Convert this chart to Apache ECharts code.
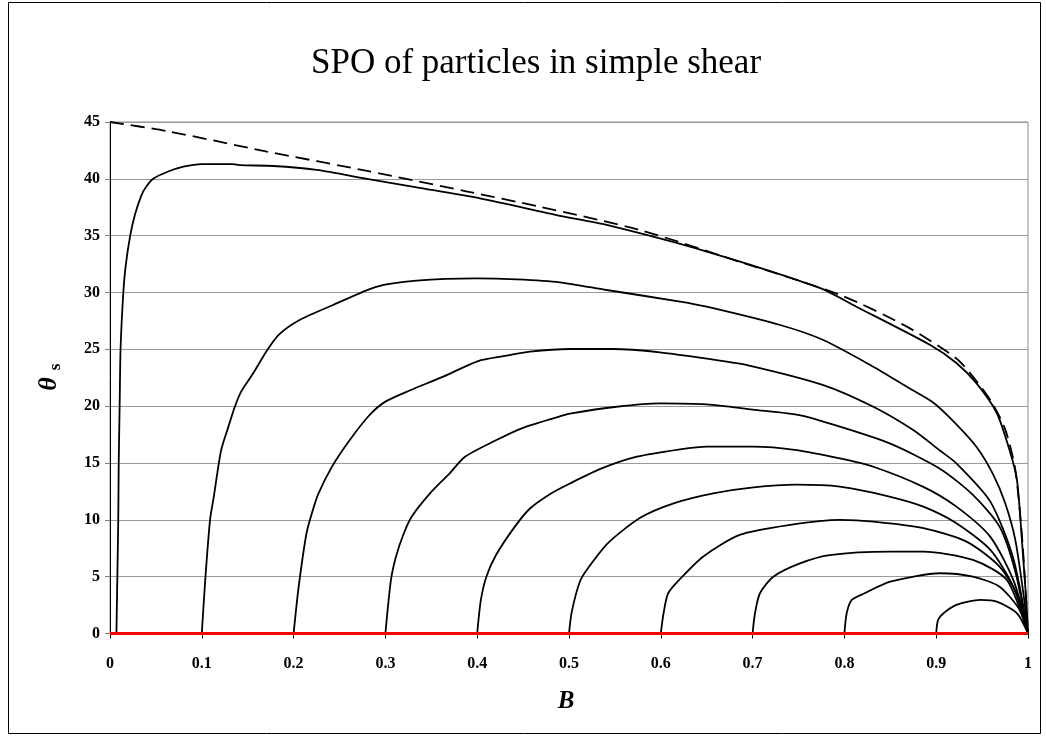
<!DOCTYPE html>
<html>
<head>
<meta charset="utf-8">
<title>SPO of particles in simple shear</title>
<script src="https://cdn.jsdelivr.net/npm/echarts@6/dist/echarts.min.js"></script>
<style>
  html, body { margin: 0; padding: 0; background: #fff; }
  #chart { width: 1046px; height: 738px; }
</style>
</head>
<body>
<div id="chart"></div>
<script>
// Shape preferred orientation paths: each curve is [B, theta_s] pairs,
// starting from an initial shape factor B0 on the B axis.
const curveB001 = [[0.007,0],[0.008,5],[0.009,10],[0.0095,15],[0.0105,20],[0.0115,25],[0.0145,30],[0.017,32.3],[0.022,35],[0.027,36.8],[0.034,38.5],[0.039,39.25],[0.047,40.0],[0.062,40.6],[0.080,41.07],[0.10,41.3],[0.134,41.3],[0.142,41.2],[0.178,41.13],[0.225,40.78],[0.28,40.0],[0.334,39.25],[0.403,38.28],[0.49,36.75],[0.541,35.94],[0.65,33.6],[0.773,30.4],[0.813,28.75],[0.893,25.4],[0.922,23.8],[0.944,22.0],[0.966,19.4],[0.980,16.1],[0.988,13.5],[0.994,7.5],[0.998,3],[1,0]];
const curveB01 = [[0.1,0],[0.104,5],[0.109,10],[0.113,12],[0.121,16.1],[0.129,18.2],[0.136,19.95],[0.143,21.3],[0.156,22.9],[0.171,24.9],[0.184,26.3],[0.207,27.6],[0.243,28.9],[0.29,30.5],[0.334,31.04],[0.399,31.25],[0.443,31.16],[0.49,30.9],[0.541,30.22],[0.621,29.2],[0.65,28.75],[0.730,27.14],[0.777,25.82],[0.8315,23.47],[0.868,21.7],[0.897,20.3],[0.922,18.4],[0.944,16.4],[0.962,14.0],[0.975,11.5],[0.986,8.3],[0.995,3.5],[1,0]];
const curveB02 = [[0.2,0],[0.2055,4.1],[0.214,8.8],[0.22,10.6],[0.227,12.3],[0.242,14.7],[0.261,17.0],[0.2825,19.2],[0.30,20.4],[0.327,21.4],[0.363,22.6],[0.401,23.97],[0.4285,24.4],[0.4575,24.8],[0.501,25.03],[0.548,25.03],[0.599,24.74],[0.657,24.1],[0.694,23.62],[0.777,21.86],[0.8315,19.95],[0.875,17.9],[0.904,16.1],[0.922,14.97],[0.959,11.6],[0.984,6.6],[1,0]];
const curveB03 = [[0.3,0],[0.306,4.7],[0.3115,6.76],[0.32,8.8],[0.3286,10.28],[0.3486,12.33],[0.370,14.09],[0.3867,15.55],[0.421,17.02],[0.4485,18.05],[0.490,19.1],[0.501,19.35],[0.552,19.95],[0.599,20.25],[0.65,20.16],[0.70,19.7],[0.752,19.2],[0.795,18.2],[0.85,16.7],[0.904,14.5],[0.940,12.2],[0.969,9.4],[0.986,5.5],[1,0]];
const curveB04 = [[0.4,0],[0.404,2.95],[0.41,5.0],[0.4205,6.9],[0.441,9.4],[0.4575,11.0],[0.48,12.3],[0.501,13.2],[0.535,14.5],[0.574,15.55],[0.621,16.2],[0.65,16.44],[0.70,16.44],[0.748,16.14],[0.795,15.4],[0.8315,14.67],[0.886,12.9],[0.922,11.16],[0.959,8.5],[0.985,4.5],[1,0]];
const curveB05 = [[0.5,0],[0.503,1.9],[0.512,4.6],[0.522,5.9],[0.543,8.0],[0.578,10.2],[0.614,11.45],[0.657,12.33],[0.701,12.86],[0.748,13.09],[0.795,12.92],[0.85,12.03],[0.886,11.16],[0.922,9.7],[0.959,7.35],[0.984,4.12],[1,0]];
const curveB06 = [[0.6,0],[0.603,1.78],[0.608,3.54],[0.621,4.8],[0.646,6.76],[0.686,8.67],[0.741,9.55],[0.795,9.99],[0.8315,9.84],[0.886,9.26],[0.933,8.08],[0.969,5.88],[0.991,2.95],[1,0]];
const curveB07 = [[0.7,0],[0.7026,1.78],[0.708,3.54],[0.7226,5.0],[0.7516,6.17],[0.784,6.9],[0.85,7.2],[0.886,7.2],[0.940,6.47],[0.977,4.7],[1,0]];
const curveB08 = [[0.8,0],[0.8025,1.78],[0.808,2.95],[0.822,3.54],[0.85,4.56],[0.904,5.3],[0.940,5.0],[0.969,4.12],[0.991,2.07],[1,0]];
const curveB09 = [[0.9,0],[0.902,1.19],[0.908,1.78],[0.922,2.51],[0.948,2.95],[0.966,2.8],[0.988,1.78],[1,0]];

// Upper bound of the orientation paths
const envelope = [[0,45],[0.062,44.2],[0.171,42.4],[0.28,40.7],[0.388,38.9],[0.468,37.55],[0.577,35.5],[0.686,32.7],[0.795,29.8],[0.868,27.0],[0.922,24.2],[0.940,22.6],[0.960,20.4],[0.975,18.0],[0.986,14.5],[0.994,8],[1,0]];

// Zero-angle reference line
const baseline = [[0,0],[1,0]];

const shapeCurves = [curveB001, curveB01, curveB02, curveB03, curveB04, curveB05, curveB06, curveB07, curveB08, curveB09];

const serif = "'Liberation Serif', 'Times New Roman', serif";

const chart = echarts.init(document.getElementById('chart'));

const series = shapeCurves.map(d => ({
  type: 'line',
  data: d,
  showSymbol: false,
  smooth: 0.25,
  lineStyle: { color: '#000', width: 1.8 },
  z: 3
}));
series.push({
  type: 'line',
  data: envelope,
  showSymbol: false,
  smooth: 0.25,
  lineStyle: { color: '#000', width: 1.8, type: [14, 7] },
  z: 3
});
series.push({
  type: 'line',
  data: baseline,
  showSymbol: false,
  lineStyle: { color: '#ff0000', width: 3 },
  z: 4
});

chart.setOption({
  animation: false,
  backgroundColor: '#fff',
  title: {
    text: 'SPO of particles in simple shear',
    left: 531,
    top: 41,
    textAlign: 'center',
    textStyle: { fontFamily: serif, fontSize: 35, fontWeight: 'normal', color: '#000' }
  },
  grid: {
    left: 110, right: 18, top: 122, bottom: 104.5,
    show: true, borderColor: '#8c8c8c', borderWidth: 1, backgroundColor: 'transparent'
  },
  xAxis: {
    type: 'value', min: 0, max: 1, interval: 0.1,
    axisLine: { show: true, onZero: false, lineStyle: { color: '#000', width: 1 } },
    axisTick: { show: true, inside: false, length: 5, lineStyle: { color: '#000' } },
    splitLine: { show: false },
    axisLabel: {
      margin: 22,
      fontFamily: serif, fontSize: 16, fontWeight: 'bold', color: '#000',
      formatter: v => String(Math.round(v * 10) / 10)
    }
  },
  yAxis: {
    type: 'value', min: 0, max: 45, interval: 5,
    axisLine: { show: true, onZero: false, lineStyle: { color: '#000', width: 1 } },
    axisTick: { show: true, inside: false, length: 5, lineStyle: { color: '#808080' } },
    splitLine: { show: true, lineStyle: { color: '#9a9a9a', width: 1 } },
    axisLabel: { margin: 10, fontFamily: serif, fontSize: 16, fontWeight: 'bold', color: '#000' }
  },
  graphic: [
    {
      type: 'rect', silent: true, z: -1,
      shape: { x: 8.5, y: 2.5, width: 1032, height: 731 },
      style: { fill: 'none', stroke: '#000', lineWidth: 1 }
    },
    {
      type: 'text', x: 49, y: 384, rotation: Math.PI / 2,
      style: { text: 'θ', fontFamily: serif, fontSize: 26, fontWeight: 'bold', fontStyle: 'italic',
               fill: '#000', align: 'center', verticalAlign: 'middle' }
    },
    {
      type: 'text', x: 56, y: 367, rotation: Math.PI / 2,
      style: { text: 's', fontFamily: serif, fontSize: 17, fontWeight: 'bold',
               fill: '#000', align: 'center', verticalAlign: 'middle' }
    },
    {
      type: 'text', x: 566, y: 702,
      style: { text: 'B', fontFamily: serif, fontSize: 25, fontWeight: 'bold', fontStyle: 'italic',
               fill: '#000', align: 'center', verticalAlign: 'middle' }
    }
  ],
  series: series
});
</script>
</body>
</html>
